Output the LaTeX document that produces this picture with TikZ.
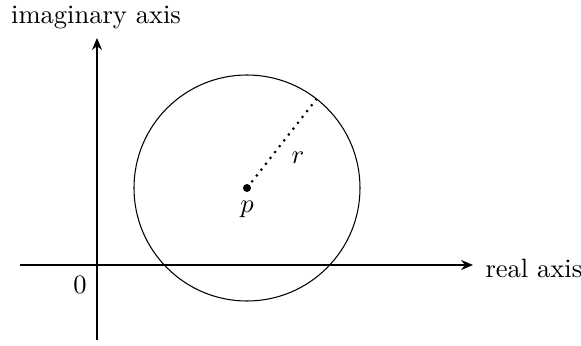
\documentclass[tikz,border=0pt]{standalone}
\usetikzlibrary{arrows.meta,calc}
\begin{document}
\begin{tikzpicture}[x=0.377pt,y=-0.377pt,
  axis/.style={line width=0.4pt,-{Stealth[length=4.5pt,width=3.8pt]}},
  lbl/.style={inner sep=0pt}]
\useasboundingbox (0,0) rectangle (581,345);
\coordinate (ybot) at (97,340);
\coordinate (ytop) at (97,38);
\coordinate (xl) at (20,265);
\coordinate (xr) at (473,265);
\coordinate (C) at (247,188);
\coordinate (E) at ($(C)+(-52:113)$);
\draw[axis] (ybot) -- (ytop);
\draw[axis] (xl) -- (xr);
\node[lbl,anchor=west] (rl) at (485,268) {real axis};
\node[lbl] (il) at (96,18) {imaginary axis};
\node[lbl] (zero) at (80,285) {$0$};
\draw (C) circle[radius=113];
\draw[line width=0.8pt,dotted] (C) -- (E);
\fill (C) circle[radius=4];
\node[lbl] (p) at (247,209) {$p$};
\node[lbl] (r) at (298,158) {$r$};
\end{tikzpicture}
\end{document}
